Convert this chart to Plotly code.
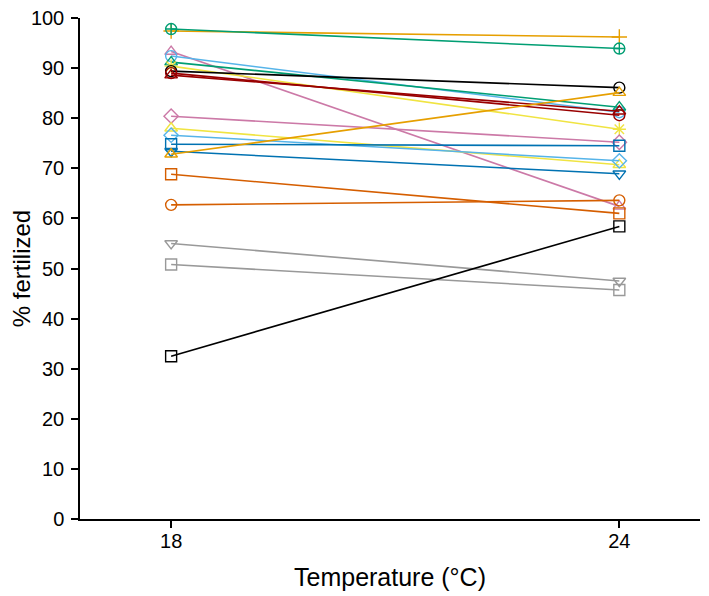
import plotly.graph_objects as go

temps = [18, 24]

names = ["orange_plus", "green_cplus", "pink_tri", "lblue_circ", "green_tri", "yellow_ast",
         "black_circ", "dred_circ", "dred_tri", "pink_diam", "yellow_tri", "lblue_diam",
         "blue_sq", "blue_tdown", "orange_tri", "verm_sq", "verm_circ", "grey_tdown",
         "grey_sq", "black_sq"]
at18 = [97.4, 97.8, 93.3, 92.4, 91.2, 90.4, 89.4, 89.0, 88.6, 80.4, 78.0, 76.6,
        74.8, 73.4, 72.8, 68.8, 62.7, 55.0, 50.8, 32.5]
at24 = [96.2, 93.9, 62.4, 81.2, 82.2, 77.8, 86.1, 80.6, 81.4, 75.2, 70.7, 71.5,
        74.5, 68.9, 85.1, 61.0, 63.6, 47.5, 45.7, 58.4]
colors = ["#E69F00", "#009E73", "#CC79A7", "#56B4E9", "#009E73", "#F0E442",
          "#000000", "#990000", "#990000", "#CC79A7", "#F0E442", "#56B4E9",
          "#0072B2", "#0072B2", "#E69F00", "#D55E00", "#D55E00", "#999999",
          "#999999", "#000000"]
symbols = ["cross-thin-open", "circle-cross-open", "triangle-up-open", "circle-open",
           "triangle-up-open", "asterisk-open", "circle-open", "circle-open",
           "triangle-up-open", "diamond-open", "triangle-up-open", "diamond-open",
           "square-open", "triangle-down-open", "triangle-up-open", "square-open",
           "circle-open", "triangle-down-open", "square-open", "square-open"]

fig = go.Figure()
for n, a, b, c, s in zip(names, at18, at24, colors, symbols):
    fig.add_trace(go.Scatter(
        x=temps, y=[a, b], mode="lines+markers", name=n,
        line=dict(color=c, width=1.6),
        marker=dict(symbol=s, size=11, color=c, line=dict(color=c, width=1.4)),
        showlegend=False, cliponaxis=False))

font = "Liberation Sans, Arial, sans-serif"
fig.update_layout(
    width=701, height=588,
    margin=dict(l=72, r=9, t=10, b=77),
    paper_bgcolor="white", plot_bgcolor="white",
    font=dict(family=font, color="black"),
)
fig.update_xaxes(range=[16.78, 25.08], tickvals=[18, 24], ticktext=["18", "24"],
                 automargin=False,
                 showgrid=False, zeroline=False, showline=True, linecolor="black",
                 linewidth=1.5, ticks="outside", ticklen=7, tickwidth=1.5,
                 tickcolor="black", tickfont=dict(size=20), ticklabelstandoff=-4,
                 title=dict(text="Temperature (°C)", font=dict(size=25), standoff=18))
fig.update_yaxes(range=[0, 100], tickvals=list(range(0, 101, 10)),
                 automargin=False,
                 showgrid=False, zeroline=False, showline=True, linecolor="black",
                 linewidth=1.5, ticks="outside", ticklen=7, tickwidth=1.5,
                 tickcolor="black", tickfont=dict(size=20), ticklabelstandoff=3,
                 ticklabeloverflow="allow",
                 title=dict(text="% fertilized", font=dict(size=24), standoff=22))

fig.write_html("out.html")
